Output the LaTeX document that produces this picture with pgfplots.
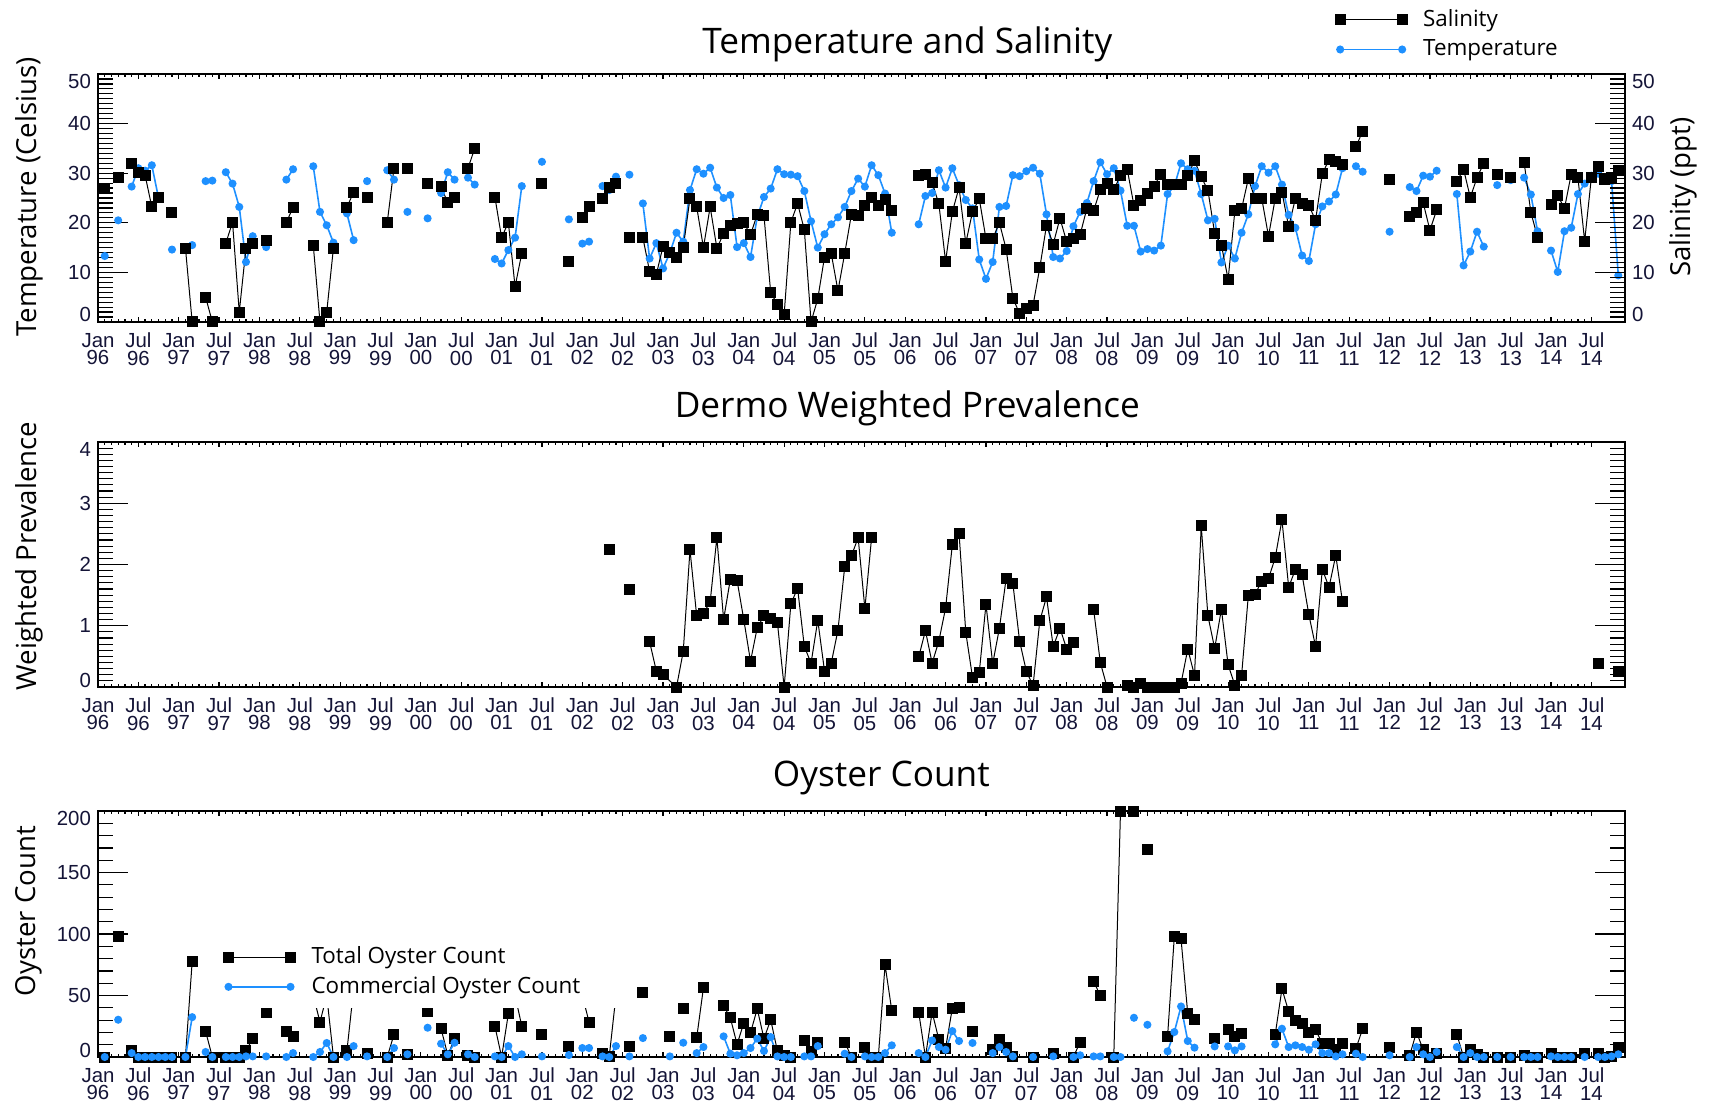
\documentclass[border=0pt]{standalone}
\usepackage{pgfplots}
\pgfplotsset{compat=1.18}
\usepackage{fontspec}
\setmainfont{Open Sans}
\newfontfamily\tickfam{Liberation Sans}
\newcommand\tickfont{\tickfam\fontsize{10.2}{8.6}\selectfont}
\newcommand\titlefont{\fontsize{17.6}{20}\selectfont}
\newcommand\labelfont{\fontsize{13.8}{16}\selectfont}
\newcommand\legfont{\fontsize{11.2}{13}\selectfont}
\definecolor{tblue}{RGB}{30,144,255}
\definecolor{tickc}{RGB}{20,20,55}

\pgfplotsset{
  base/.style={
    scale only axis, width=763.5pt, anchor=south west,
    xmin=0, xmax=227,
    xtick={0,6,...,222}, minor x tick num=5,
    xticklabels={Jan\\96,Jul\\96,Jan\\97,Jul\\97,Jan\\98,Jul\\98,Jan\\99,Jul\\99,Jan\\00,Jul\\00,Jan\\01,Jul\\01,Jan\\02,Jul\\02,Jan\\03,Jul\\03,Jan\\04,Jul\\04,Jan\\05,Jul\\05,Jan\\06,Jul\\06,Jan\\07,Jul\\07,Jan\\08,Jul\\08,Jan\\09,Jul\\09,Jan\\10,Jul\\10,Jan\\11,Jul\\11,Jan\\12,Jul\\12,Jan\\13,Jul\\13,Jan\\14,Jul\\14},
    xticklabel style={font=\tickfont, align=center, text=tickc, yshift=-2pt},
    yticklabel style={font=\tickfont, text=tickc},
    tick align=inside,
    xtick style={/pgfplots/major tick length=2.5pt,/pgfplots/minor tick length=1.3pt},
    ytick style={/pgfplots/major tick length=15pt,/pgfplots/minor tick length=7.5pt},
    every tick/.append style={black, line width=0.6pt},
    axis line style={line width=0.9pt},
    unbounded coords=jump,
    title style={font=\titlefont, anchor=center, yshift=-6pt},
    ylabel style={font=\labelfont, anchor=center},
    legend style={draw=none, fill=none, font=\legfont, nodes={inner xsep=1pt, inner ysep=1.2pt, text height=8.6pt, text depth=2.4pt}, row sep=1.4pt, column sep=7pt},
    legend cell align=left,
    legend image code/.code={\draw[#1,mark repeat=1,mark phase=1] plot coordinates {(0pt,0pt) (31pt,0pt)};},
  },
  sq/.style={black, line width=0.5pt, mark=square*, mark size=2.5pt, mark options={solid}},
  dt/.style={tblue, line width=0.8pt, mark=*, mark size=1.6pt, mark options={solid}},
}

\begin{document}
\begin{tikzpicture}
\useasboundingbox (0,0) rectangle (858pt,552pt);

% ---------------- Temperature and Salinity ----------------
\begin{axis}[base, height=124pt, at={(49pt,391pt)},
  ymin=0, ymax=50, ytick={0,10,...,50}, minor y tick num=9,
  yticklabels={\smash{0},10,20,30,40,\smash{\raisebox{-7.2pt}{50}}},
  title={Temperature and Salinity}, title style={at={(axis description cs:0.53,1.119)}},
  ylabel={Temperature (Celsius)}, ylabel style={at={(axis description cs:-0.0452,0.504)}},
  legend style={at={(axis description cs:0.806,1.29)}, anchor=north west},
]
\addplot[dt, forget plot] coordinates {
(1,13.3)(2,nan)(3,20.5)(4,nan)(5,27.3)(6,31.0)(7,30.5)(8,31.6)(9,25.0)(10,nan)(11,14.6)(12,nan)(14,15.5)(15,nan)(16,28.4)(17,28.5)(18,nan)(19,30.2)(20,27.9)(21,23.2)(22,12.1)(23,17.3)(24,nan)(25,15.1)(26,nan)(28,28.7)(29,30.8)(30,nan)(32,31.4)(33,22.2)(34,19.5)(35,16.0)(36,nan)(37,21.9)(38,16.5)(39,nan)(40,28.4)(41,nan)(43,30.6)(44,28.7)(45,nan)(46,22.2)(47,nan)(49,20.9)(50,nan)(51,26.0)(52,30.2)(53,28.7)(54,nan)(55,29.1)(56,27.7)(57,nan)(59,12.7)(60,11.8)(61,14.5)(62,17.0)(63,27.4)(64,nan)(66,32.3)(67,nan)(70,20.7)(71,nan)(72,15.8)(73,16.2)(74,nan)(75,27.4)(76,26.6)(77,29.3)(78,nan)(79,29.7)(80,nan)(81,23.9)(82,12.8)(83,15.9)(84,10.8)(85,13.9)(86,18.0)(87,16.2)(88,26.6)(89,30.8)(90,29.9)(91,31.1)(92,27.1)(93,25.0)(94,25.6)(95,15.1)(96,15.9)(97,13.1)(98,21.2)(99,25.2)(100,26.9)(101,30.8)(102,29.8)(103,29.7)(104,29.4)(105,26.4)(106,20.3)(107,15.0)(108,17.7)(109,19.7)(110,21.1)(111,23.2)(112,26.4)(113,28.9)(114,27.3)(115,31.6)(116,29.6)(117,25.9)(118,18.0)(119,nan)(122,19.7)(123,25.4)(124,26.0)(125,30.6)(126,27.1)(127,31.0)(128,27.6)(129,24.6)(130,22.9)(131,12.6)(132,8.7)(133,12.1)(134,23.2)(135,23.4)(136,29.6)(137,29.4)(138,30.4)(139,31.1)(140,29.9)(141,21.7)(142,13.1)(143,12.8)(144,14.3)(145,19.3)(146,22.2)(147,24.0)(148,28.4)(149,32.2)(150,29.8)(151,31.0)(152,26.5)(153,19.4)(154,19.4)(155,14.2)(156,14.7)(157,14.4)(158,15.4)(159,25.8)(160,27.4)(161,32.0)(162,30.8)(163,30.5)(164,25.8)(165,20.5)(166,20.8)(167,12.0)(168,15.4)(169,12.8)(170,18.0)(171,21.7)(172,27.4)(173,31.4)(174,30.1)(175,31.4)(176,27.7)(177,21.6)(178,19.0)(179,13.4)(180,12.3)(181,19.7)(182,23.3)(183,24.3)(184,25.7)(185,31.0)(186,nan)(187,31.4)(188,30.3)(189,nan)(192,18.2)(193,nan)(195,27.2)(196,26.4)(197,29.5)(198,29.3)(199,30.5)(200,nan)(202,25.8)(203,11.4)(204,14.2)(205,18.2)(206,15.2)(207,nan)(208,27.6)(209,nan)(210,28.6)(211,nan)(212,29.1)(213,25.7)(214,18.3)(215,nan)(216,14.4)(217,10.1)(218,18.3)(219,19.0)(220,25.8)(221,27.9)(222,29.5)(223,29.9)(224,29.0)(225,28.4)(226,9.4)
};
\addplot[sq] coordinates {
(1,27.0)(2,nan)(3,29.1)(4,nan)(5,32.0)(6,30.1)(7,29.6)(8,23.2)(9,25.2)(10,nan)(11,22.1)(12,nan)(13,14.9)(14,0)(15,nan)(16,5.0)(17,0)(18,nan)(19,15.9)(20,20.1)(21,2.0)(22,14.9)(23,15.9)(24,nan)(25,16.5)(26,nan)(28,20.1)(29,23.1)(30,nan)(32,15.5)(33,0)(34,2.0)(35,14.9)(36,nan)(37,23.1)(38,26.2)(39,nan)(40,25.2)(41,nan)(43,20.1)(44,31.0)(45,nan)(46,31.0)(47,nan)(49,27.9)(50,nan)(51,27.3)(52,24.0)(53,25.2)(54,nan)(55,31.0)(56,35.0)(57,nan)(59,25.2)(60,17.0)(61,20.1)(62,7.1)(63,13.9)(64,nan)(66,27.9)(67,nan)(70,12.1)(71,nan)(72,21.1)(73,23.2)(74,nan)(75,24.8)(76,27.1)(77,27.9)(78,nan)(79,17.0)(80,nan)(81,17.0)(82,10.2)(83,9.6)(84,15.3)(85,14.0)(86,13.0)(87,15.0)(88,24.9)(89,23.2)(90,15.0)(91,23.2)(92,14.9)(93,17.8)(94,19.4)(95,19.9)(96,20.0)(97,17.6)(98,21.7)(99,21.5)(100,5.9)(101,3.6)(102,1.5)(103,20.1)(104,23.9)(105,18.6)(106,0)(107,4.7)(108,13.1)(109,13.8)(110,6.3)(111,13.8)(112,21.7)(113,21.5)(114,23.4)(115,25.0)(116,23.4)(117,24.6)(118,22.4)(119,nan)(122,29.6)(123,29.8)(124,28.1)(125,23.8)(126,12.2)(127,22.2)(128,27.1)(129,15.9)(130,22.2)(131,24.9)(132,16.8)(133,16.8)(134,20.0)(135,14.7)(136,4.8)(137,1.7)(138,2.7)(139,3.4)(140,10.9)(141,19.5)(142,15.7)(143,20.9)(144,16.2)(145,16.8)(146,17.6)(147,22.9)(148,22.4)(149,26.7)(150,27.9)(151,26.7)(152,29.5)(153,30.8)(154,23.5)(155,24.5)(156,26.0)(157,27.4)(158,29.8)(159,27.7)(160,27.7)(161,27.7)(162,29.5)(163,32.5)(164,29.3)(165,26.5)(166,17.9)(167,15.5)(168,8.6)(169,22.4)(170,22.8)(171,28.9)(172,24.9)(173,24.9)(174,17.3)(175,24.9)(176,26.2)(177,19.2)(178,24.9)(179,23.8)(180,23.5)(181,20.5)(182,29.9)(183,32.7)(184,32.3)(185,31.7)(186,nan)(187,35.3)(188,38.5)(189,nan)(192,28.8)(193,nan)(195,21.2)(196,22.1)(197,24.0)(198,18.5)(199,22.6)(200,nan)(202,28.3)(203,30.8)(204,25.1)(205,29.1)(206,32.0)(207,nan)(208,29.8)(209,nan)(210,29.1)(211,nan)(212,32.2)(213,22.1)(214,17.1)(215,nan)(216,23.6)(217,25.5)(218,22.9)(219,29.8)(220,29.1)(221,16.3)(222,29.2)(223,31.3)(224,28.8)(225,29.1)(226,30.6)
};
\addlegendentry{Salinity}
\addlegendimage{dt}
\addlegendentry{Temperature}
\end{axis}
\begin{axis}[base, height=124pt, at={(49pt,391pt)},
  ymin=0, ymax=50, ytick={0,10,...,50}, minor y tick num=9,
  yticklabels={\smash{0},10,20,30,40,\smash{\raisebox{-7.2pt}{50}}},
  xtick=\empty, minor x tick num=0, ytick pos=right, yticklabel pos=right,
  ylabel={Salinity (ppt)}, ylabel style={at={(axis description cs:1.038,0.504)}},
]
\end{axis}

% ---------------- Dermo ----------------
\begin{axis}[base, height=122.5pt, at={(49pt,208.5pt)},
  ymin=0, ymax=4, ytick={0,1,...,4}, minor y tick num=9,
  yticklabels={\smash{0},1,2,3,\smash{\raisebox{-7.2pt}{4}}},
  title={Dermo Weighted Prevalence}, title style={at={(axis description cs:0.53,1.139)}},
  ylabel={Weighted Prevalence}, ylabel style={at={(axis description cs:-0.0452,0.535)}},
]
\addplot[sq] coordinates {
(76,2.25)(77,nan)(79,1.60)(80,nan)(82,0.74)(83,0.26)(84,0.20)(86,0)(87,0.58)(88,2.24)(89,1.16)(90,1.20)(91,1.39)(92,2.44)(93,1.10)(94,1.76)(95,1.74)(96,1.10)(97,0.42)(98,0.97)(99,1.16)(100,1.12)(101,1.05)(102,0)(103,1.36)(104,1.61)(105,0.66)(106,0.39)(107,1.09)(108,0.26)(109,0.39)(110,0.93)(111,1.96)(112,2.14)(113,2.44)(114,1.28)(115,2.44)(116,nan)(122,0.49)(123,0.92)(124,0.39)(125,0.75)(126,1.29)(127,2.32)(128,2.51)(129,0.89)(130,0.16)(131,0.23)(132,1.35)(133,0.38)(134,0.96)(135,1.77)(136,1.69)(137,0.75)(138,0.26)(139,0.02)(140,1.08)(141,1.47)(142,0.66)(143,0.96)(144,0.62)(145,0.72)(146,nan)(148,1.27)(149,0.40)(150,0)(151,nan)(153,0.03)(154,0)(155,0.05)(156,0)(157,0)(158,0)(159,0)(160,0)(161,0.06)(162,0.62)(163,0.19)(164,2.63)(165,1.16)(166,0.63)(167,1.27)(168,0.36)(169,0.03)(170,0.19)(171,1.49)(172,1.51)(173,1.73)(174,1.77)(175,2.11)(176,2.73)(177,1.63)(178,1.92)(179,1.83)(180,1.18)(181,0.66)(182,1.92)(183,1.63)(184,2.15)(185,1.39)(186,nan)(223,0.38)(224,nan)(226,0.26)
};
\end{axis}

% ---------------- Oyster Count ----------------
\begin{axis}[base, height=123pt, at={(49pt,23.5pt)},
  ymin=0, ymax=200, ytick={0,50,...,200}, minor y tick num=4,
  yticklabels={\smash{0},50,100,150,\smash{\raisebox{-7.2pt}{200}}},
  title={Oyster Count}, title style={at={(axis description cs:0.513,1.134)}},
  ylabel={Oyster Count}, ylabel style={at={(axis description cs:-0.0452,0.593)}},
]
\addplot[sq] coordinates {
(1,0)(2,nan)(3,98)(4,nan)(5,5.4)(6,0)(7,0)(8,0)(9,0)(10,0)(11,0)(12,nan)(13,0)(14,77.6)(15,nan)(16,20.8)(17,0)(18,nan)(19,0)(20,0)(21,0)(22,4.9)(23,14.9)(24,nan)(25,36.5)(26,nan)(28,21.1)(29,16.8)(30,nan)(32,50)(33,28.4)(34,50)(35,0)(36,nan)(37,4.9)(38,55)(39,nan)(40,2.7)(41,nan)(43,0)(44,18.4)(45,nan)(46,2.2)(47,nan)(49,37)(50,nan)(51,23)(52,1.4)(53,14.9)(54,nan)(55,1.4)(56,0)(57,nan)(59,25.1)(60,0)(61,35.1)(62,50)(63,25.1)(64,nan)(66,18.4)(67,nan)(70,8.6)(71,nan)(72,50)(73,28.4)(74,nan)(75,3.2)(76,0.5)(77,50)(78,nan)(79,8.9)(80,nan)(81,52.7)(82,nan)(85,16.8)(86,nan)(87,39.2)(88,nan)(89,15.7)(90,56.2)(91,nan)(93,41.6)(94,31.9)(95,10.3)(96,27.6)(97,19.7)(98,39.2)(99,14.9)(100,30.3)(101,4.9)(102,1.4)(103,0)(104,nan)(105,13.5)(106,4.1)(107,12.2)(108,nan)(111,12.2)(112,0)(113,nan)(114,8.1)(115,0)(116,0)(117,74.9)(118,37.8)(119,nan)(122,36.5)(123,0)(124,36.5)(125,14.1)(126,7.3)(127,39.7)(128,40.5)(129,nan)(130,20.8)(131,nan)(133,5.9)(134,14.1)(135,8.1)(136,0.5)(137,nan)(139,0)(140,nan)(142,3.2)(143,nan)(145,0)(146,12.2)(147,nan)(148,61.4)(149,50)(150,nan)(151,0)(152,200)(153,nan)(154,200)(155,nan)(156,169)(157,nan)(159,17)(160,97.8)(161,96)(162,35.1)(163,30.3)(164,nan)(166,14.9)(167,nan)(168,22.2)(169,16.8)(170,18.9)(171,nan)(175,18.4)(176,55.4)(177,37)(178,29.7)(179,27.6)(180,20.3)(181,22.2)(182,10.8)(183,10.8)(184,5.9)(185,10.8)(186,nan)(187,6.8)(188,23)(189,nan)(192,8.1)(193,nan)(195,1.4)(196,20.3)(197,5.9)(198,0)(199,3.2)(200,nan)(202,18.4)(203,0)(204,5.9)(205,2.2)(206,0)(207,nan)(208,0)(209,nan)(210,0)(211,nan)(212,1.4)(213,0)(214,0)(215,nan)(216,2.7)(217,0)(218,0)(219,0)(220,nan)(221,3.2)(222,nan)(223,3.2)(224,0)(225,0.5)(226,8.1)
};
\addplot[dt] coordinates {
(1,0)(2,nan)(3,30.3)(4,nan)(5,3.2)(6,0)(7,0)(8,0)(9,0)(10,0)(11,0)(12,nan)(13,0)(14,32.4)(15,nan)(16,4.1)(17,0)(18,nan)(19,0)(20,0)(21,0)(22,0.5)(23,0.5)(24,nan)(25,0.5)(26,nan)(28,0)(29,3.2)(30,nan)(32,0)(33,4.1)(34,11.4)(35,0)(36,nan)(37,0)(38,8.9)(39,nan)(40,0.5)(41,nan)(43,0)(44,7.3)(45,nan)(46,2.2)(47,nan)(49,23.8)(50,nan)(51,10.8)(52,2.2)(53,11.6)(54,nan)(55,2.2)(56,0)(57,nan)(59,0.5)(60,0)(61,8.9)(62,0)(63,2.2)(64,nan)(66,0.5)(67,nan)(70,1.6)(71,nan)(72,7.3)(73,7.3)(74,nan)(75,0.5)(76,0)(77,8.9)(78,nan)(79,0.5)(80,nan)(81,15.4)(82,nan)(85,0.5)(86,nan)(87,11.6)(88,nan)(89,3.2)(90,8.1)(91,nan)(93,16.8)(94,2.7)(95,1.4)(96,3.2)(97,7.3)(98,14.9)(99,4.9)(100,16.2)(101,0.5)(102,0)(103,0)(104,nan)(105,0.5)(106,0.5)(107,8.9)(108,nan)(111,2.7)(112,0)(113,nan)(114,0.5)(115,0)(116,0)(117,3.2)(118,9.5)(119,nan)(122,3.2)(123,0)(124,13.5)(125,8.1)(126,5.9)(127,21.1)(128,13)(129,nan)(130,11.4)(131,nan)(133,3.2)(134,8.1)(135,4.1)(136,0.5)(137,nan)(139,0)(140,nan)(142,0.5)(143,nan)(145,0)(146,1.4)(147,nan)(148,0.5)(149,0.5)(150,nan)(151,0)(152,0)(153,nan)(154,31.9)(155,nan)(156,26.2)(157,nan)(159,4.6)(160,20.3)(161,41.1)(162,13)(163,7.6)(164,nan)(166,8.6)(167,nan)(168,8.6)(169,5.4)(170,8.6)(171,nan)(175,10.3)(176,23)(177,8.1)(178,9.5)(179,8.1)(180,5.9)(181,10.3)(182,3.2)(183,3.2)(184,0.5)(185,2.2)(186,nan)(187,2.7)(188,0)(189,nan)(192,1.4)(193,nan)(195,0)(196,8.1)(197,2.2)(198,0)(199,4.1)(200,nan)(202,8.1)(203,0)(204,3.2)(205,0)(206,0)(207,nan)(208,0)(209,nan)(210,0)(211,nan)(212,0)(213,0)(214,0)(215,nan)(216,0.5)(217,0)(218,0)(219,0)(220,nan)(221,0)(222,nan)(223,0)(224,0)(225,0.5)(226,2.2)
};
\end{axis}
% overlay: white legend box hiding data, as in the reference
\begin{axis}[base, height=123pt, at={(49pt,23.5pt)}, hide axis,
  ymin=0, ymax=200,
  legend style={at={(axis description cs:0.078,0.478)}, anchor=north west},
]
\fill[white] (axis cs:16.5,40) rectangle (axis cs:78.6,96);
\addlegendimage{sq}
\addlegendentry{Total Oyster Count}
\addlegendimage{dt}
\addlegendentry{Commercial Oyster Count}
\end{axis}
\end{tikzpicture}
\end{document}
